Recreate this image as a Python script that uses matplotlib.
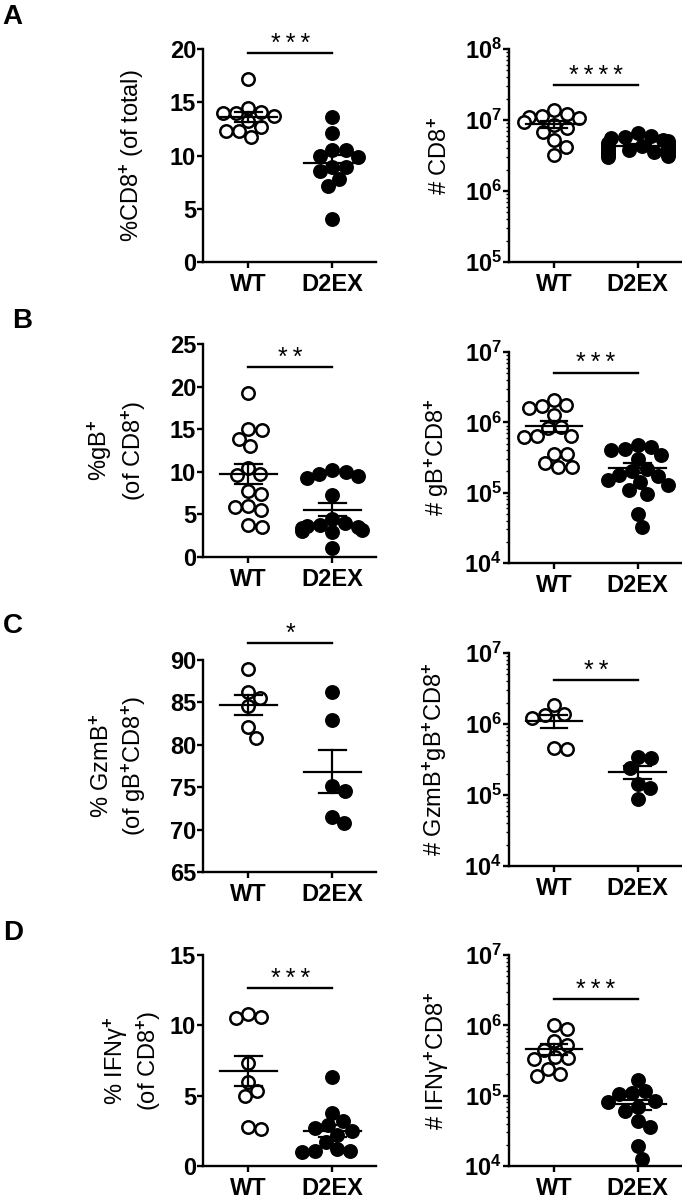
import numpy as np
import matplotlib
matplotlib.use("Agg")
import matplotlib.pyplot as plt
import matplotlib.transforms as mtransforms
from matplotlib.ticker import MultipleLocator, LogLocator, FuncFormatter, NullFormatter

plt.rcParams['font.family'] = ['Liberation Sans', 'DejaVu Sans']
plt.rcParams['font.weight'] = 'bold'
plt.rcParams['mathtext.fontset'] = 'custom'
plt.rcParams['mathtext.rm'] = 'Liberation Sans'
plt.rcParams['mathtext.bf'] = 'Liberation Sans:bold'
plt.rcParams['mathtext.it'] = 'Liberation Sans:italic'

groups = ['WT', 'D2EX']

# A: CD8+ cells
cd8_pct_wt = [17.2, 14.5, 14.1, 14.0, 14.0, 13.7, 13.2, 12.7, 12.3, 12.3, 11.7]
cd8_pct_d2ex = [13.6, 12.1, 10.5, 10.5, 10.0, 9.9, 8.9, 8.9, 8.5, 7.8, 7.1, 4.0]
cd8_num_wt = [1.4e7, 1.2e7, 1.15e7, 1.1e7, 1.05e7, 9.3e6, 8.5e6, 7.6e6, 6.8e6, 5.2e6, 4.2e6, 3.2e6]
cd8_num_d2ex = [6.5e6, 6.0e6, 5.8e6, 5.5e6, 5.2e6, 5.0e6, 4.8e6, 4.6e6, 4.5e6, 4.3e6, 4.2e6,
                4.0e6, 3.9e6, 3.8e6, 3.7e6, 3.6e6, 3.5e6, 3.4e6, 3.3e6, 3.2e6, 3.1e6, 3.0e6]

# B: gB+ of CD8+
gb_pct_wt = [19.2, 15.0, 14.9, 13.9, 13.0, 10.5, 9.8, 9.6, 7.8, 7.4, 6.0, 5.9, 5.5, 3.7, 3.5]
gb_pct_d2ex = [10.2, 10.0, 9.8, 9.5, 9.3, 7.3, 4.5, 4.0, 3.8, 3.6, 3.5, 3.4, 3.2, 3.0, 2.9, 1.0]
gb_num_wt = [2.1e6, 1.75e6, 1.7e6, 1.6e6, 1.26e6, 8.7e5, 8.2e5, 6.4e5, 6.3e5, 6.2e5,
             3.6e5, 3.5e5, 2.6e5, 2.35e5, 2.3e5]
gb_num_d2ex = [4.8e5, 4.5e5, 4.2e5, 4.0e5, 3.4e5, 3.0e5, 2.2e5, 2.0e5, 1.8e5, 1.7e5,
               1.5e5, 1.4e5, 1.3e5, 1.1e5, 9.5e4, 5.0e4, 3.3e4]

# C: GzmB+ of gB+CD8+
gzmb_pct_wt = [88.9, 86.2, 85.5, 84.6, 82.1, 80.8]
gzmb_pct_d2ex = [86.2, 82.9, 75.1, 74.5, 71.5, 70.8]
gzmb_num_wt = [1.85e6, 1.4e6, 1.35e6, 1.2e6, 4.6e5, 4.4e5]
gzmb_num_d2ex = [3.4e5, 3.3e5, 2.4e5, 1.45e5, 1.25e5, 8.9e4]

# D: IFNg+ of CD8+
ifng_pct_wt = [10.8, 10.6, 10.5, 7.3, 6.0, 5.3, 5.0, 2.8, 2.6]
ifng_pct_d2ex = [6.3, 3.8, 3.2, 2.9, 2.7, 2.5, 2.2, 1.7, 1.2, 1.1, 1.1, 1.0]
ifng_num_wt = [1.0e6, 9.0e5, 6.0e5, 5.3e5, 4.5e5, 3.5e5, 3.4e5, 3.3e5, 2.4e5, 2.0e5, 1.9e5]
ifng_num_d2ex = [1.65e5, 1.15e5, 1.1e5, 1.05e5, 8.5e4, 8.0e4, 7.0e4, 6.0e4, 4.3e4, 3.6e4,
                 1.9e4, 1.25e4]

stars = [['***', '****'], ['**', '***'], ['*', '**'], ['***', '***']]
row_letters = ['A', 'B', 'C', 'D']

W, H = 682, 1199
fig = plt.figure(figsize=(W / 100, H / 100), dpi=100)


def add_axes_px(x0, top, w, bottom):
    return fig.add_axes([x0 / W, 1 - bottom / H, w / W, (bottom - top) / H])


def swarm_x(ax, center, vals, diam, maxw):
    vals = np.asarray(vals, float)
    pts = ax.transData.transform(np.column_stack([np.full(len(vals), center), vals]))
    ypx = pts[:, 1]
    ppu = (ax.transData.transform((center + 1, vals[0]))[0]
           - ax.transData.transform((center, vals[0]))[0])
    placed = []
    offs = np.zeros(len(vals))
    for i in np.argsort(-ypx):
        cands = [0.0]
        for px, py in placed:
            dy = ypx[i] - py
            if abs(dy) < diam:
                dx = np.sqrt(diam ** 2 - dy ** 2)
                cands += [px + dx, px - dx]
        cands.sort(key=lambda c: (round(abs(c), 3), c < 0))
        best = cands[-1]
        for c in cands:
            if all((c - px) ** 2 + (ypx[i] - py) ** 2 >= diam ** 2 - 1e-6 for px, py in placed):
                best = c
                break
        best = float(np.clip(best, -maxw, maxw))
        offs[i] = best
        placed.append((best, ypx[i]))
    return center + offs / ppu


def draw_panel(ax, wt, d2ex, log, ylim, label, label_x, star, bar_y):
    ax.set_xlim(-0.54, 1.52)
    if log:
        ax.set_yscale('log')
        ax.yaxis.set_major_locator(LogLocator(base=10))
        ax.yaxis.set_minor_locator(LogLocator(base=10, subs=np.arange(2, 10)))
        ax.yaxis.set_minor_formatter(NullFormatter())
        ax.yaxis.set_major_formatter(FuncFormatter(
            lambda v, p: r'$\mathbf{10^{%d}}$' % round(np.log10(v))))
    else:
        ax.yaxis.set_major_locator(MultipleLocator(5))
    ax.set_ylim(*ylim)

    ms = 80
    diam = (np.sqrt(ms) + 1.8) * 100 / 72 * 0.9
    for i, (vals, face) in enumerate([(wt, 'white'), (d2ex, 'black')]):
        vals = np.asarray(vals, float)
        xs = swarm_x(ax, i, vals, diam, 30)
        ax.scatter(xs, vals, s=ms, facecolor=face, edgecolor='black', linewidth=1.8,
                   zorder=3, clip_on=False)
        m = vals.mean()
        sem = vals.std(ddof=1) / np.sqrt(len(vals))
        ax.plot([i - 0.34, i + 0.34], [m, m], color='black', lw=1.6, zorder=4)
        ax.plot([i, i], [m - sem, m + sem], color='black', lw=1.6, zorder=4)
        for e in (m - sem, m + sem):
            ax.plot([i - 0.16, i + 0.16], [e, e], color='black', lw=1.6, zorder=4)

    trans = mtransforms.blended_transform_factory(ax.transData, ax.transAxes)
    ax.plot([0, 1], [bar_y, bar_y], color='black', lw=1.7, transform=trans, clip_on=False)
    ax.annotate('\u2009'.join(star), xy=(0.5, bar_y), xycoords=trans, xytext=(0, -2),
                textcoords='offset points', ha='center', va='bottom', fontsize=18,
                fontweight='normal')

    ax.set_xticks([0, 1])
    ax.set_xticklabels(groups)
    for s in ('top', 'right'):
        ax.spines[s].set_visible(False)
    for s in ('left', 'bottom'):
        ax.spines[s].set_linewidth(1.7)
    ax.tick_params(axis='both', which='major', direction='out', length=4, width=1.7,
                   labelsize=17)
    ax.tick_params(axis='y', which='major', pad=1)
    ax.tick_params(axis='x', which='major', pad=4)
    ax.tick_params(axis='y', which='minor', direction='out', length=2.2, width=1.0)
    ax.set_ylabel(label, fontsize=17, fontweight='normal', linespacing=1.25,
                  multialignment='center')
    ax.yaxis.set_label_coords(label_x, 0.5)


# layout in pixels: (left, top, width, bottom)
L, R = 203, 509
rows = [
    [(L, 49, 173, 262), (R, 49, 172, 262)],
    [(L, 344, 173, 557), (R, 352, 172, 563)],
    [(L, 660, 173, 872), (R, 653, 172, 866)],
    [(L, 955, 173, 1166), (R, 955, 172, 1166)],
]

data = [
    [(cd8_pct_wt, cd8_pct_d2ex, False, (0, 20), '%CD8$^{+}$ (of total)', -0.33, 0.981),
     (cd8_num_wt, cd8_num_d2ex, True, (1e5, 1e8), '# CD8$^{+}$', -0.335, 0.831)],
    [(gb_pct_wt, gb_pct_d2ex, False, (0, 25), '%gB$^{+}$\n(of CD8$^{+}$)', -0.32, 0.892),
     (gb_num_wt, gb_num_d2ex, True, (1e4, 1e7), '# gB$^{+}$CD8$^{+}$', -0.34, 0.902)],
    [(gzmb_pct_wt, gzmb_pct_d2ex, False, (65, 90), '% GzmB$^{+}$\n(of gB$^{+}$CD8$^{+}$)', -0.32, 1.08),
     (gzmb_num_wt, gzmb_num_d2ex, True, (1e4, 1e7), '# GzmB$^{+}$gB$^{+}$CD8$^{+}$', -0.35, 0.873)],
    [(ifng_pct_wt, ifng_pct_d2ex, False, (0, 15), '% IFN\u03b3$^{+}$\n(of CD8$^{+}$)', -0.23, 0.842),
     (ifng_num_wt, ifng_num_d2ex, True, (1e4, 1e7), '# IFN\u03b3$^{+}$CD8$^{+}$', -0.34, 0.79)],
]

letter_pos = [(2, 4), (12, 308), (3, 613), (3, 920)]

for r in range(4):
    for c in range(2):
        x0, top, w, bottom = rows[r][c]
        ax = add_axes_px(x0, top, w, bottom)
        wt, d2ex, log, ylim, label, lx, by = data[r][c]
        draw_panel(ax, wt, d2ex, log, ylim, label, lx, stars[r][c], by)
    lx, ly = letter_pos[r]
    fig.text(lx / W, 1 - ly / H, row_letters[r], fontsize=20, fontweight='bold',
             ha='left', va='top')

fig.savefig('out.png', dpi=100)
